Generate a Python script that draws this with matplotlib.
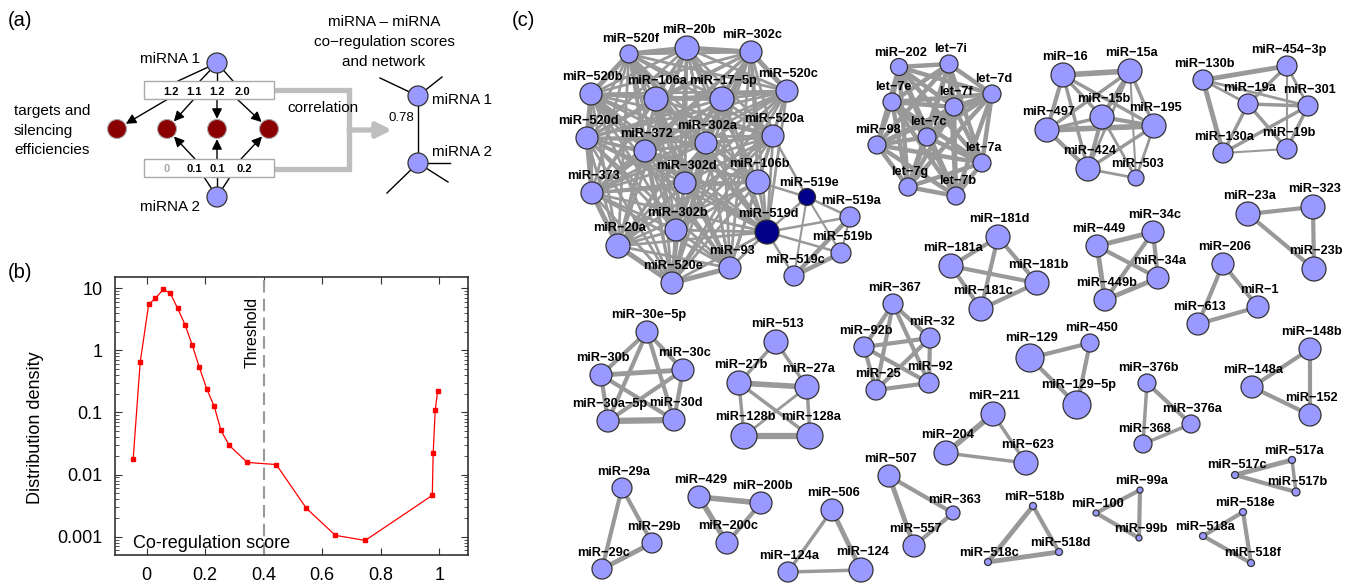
import itertools
import matplotlib
matplotlib.use('Agg')
import matplotlib.pyplot as plt
from matplotlib.patches import Circle, Rectangle
from matplotlib.ticker import FixedLocator, FixedFormatter, LogLocator, NullFormatter

plt.rcParams['font.family'] = ['Liberation Sans', 'DejaVu Sans']

# ---- panel (b) data: distribution of co-regulation scores ----
score = [-0.046, -0.022, 0.007, 0.030, 0.057, 0.081, 0.106, 0.132, 0.156, 0.180,
         0.206, 0.231, 0.254, 0.282, 0.344, 0.443, 0.546, 0.645, 0.747, 0.976,
         0.979, 0.986, 0.994]
density = [0.0176, 0.64, 5.5, 6.9, 9.6, 8.3, 4.76, 2.54, 1.21, 0.535,
           0.236, 0.126, 0.0516, 0.0296, 0.0157, 0.0145, 0.00286, 0.00105, 0.00087, 0.00463,
           0.022, 0.108, 0.219]
threshold = 0.4

# ---- panel (a) data ----
eff_top = ['1.2', '1.1', '1.2', '2.0']
eff_bottom = ['0', '0.1', '0.1', '0.2']
example_score = '0.78'

# ---- panel (c) data: co-regulation network ----
big_core = ['miR-520f', 'miR-20b', 'miR-302c', 'miR-520c', 'miR-520b', 'miR-106a', 'miR-17-5p',
            'miR-520d', 'miR-372', 'miR-302a', 'miR-520a', 'miR-302d', 'miR-106b', 'miR-373',
            'miR-302b', 'miR-20a', 'miR-519d', 'miR-93', 'miR-520e']
big_extra_edges = [('miR-519e', 'miR-106b', 1.8), ('miR-519e', 'miR-520a', 1.8), ('miR-519e', 'miR-519d', 1.8),
                   ('miR-519e', 'miR-519a', 1.8), ('miR-519e', 'miR-519b', 1.5), ('miR-519e', 'miR-519c', 1.5),
                   ('miR-519d', 'miR-519a', 1.8), ('miR-519d', 'miR-519b', 1.8), ('miR-519d', 'miR-519c', 1.8),
                   ('miR-519a', 'miR-519c', 3.2), ('miR-519b', 'miR-519c', 3.2), ('miR-519a', 'miR-519b', 1.5)]
big_thick = [('miR-520f', 'miR-20b'), ('miR-20b', 'miR-302c'), ('miR-520b', 'miR-520d'),
             ('miR-520d', 'miR-373'), ('miR-373', 'miR-20a'), ('miR-20a', 'miR-520e'),
             ('miR-520e', 'miR-93'), ('miR-302c', 'miR-520c'), ('miR-520b', 'miR-520f')]
let7 = ['miR-202', 'let-7i', 'let-7d', 'let-7e', 'let-7f', 'miR-98', 'let-7c', 'let-7a', 'let-7g', 'let-7b']
small_edges = [
    ('miR-16', 'miR-15a', 4.0), ('miR-16', 'miR-497', 3.0), ('miR-16', 'miR-15b', 2.5), ('miR-16', 'miR-195', 2.5),
    ('miR-16', 'miR-424', 2.5), ('miR-15a', 'miR-15b', 3.0), ('miR-15a', 'miR-195', 2.5), ('miR-15a', 'miR-497', 2.5),
    ('miR-15a', 'miR-424', 2.0), ('miR-15a', 'miR-503', 1.5), ('miR-497', 'miR-15b', 2.5), ('miR-497', 'miR-195', 4.0),
    ('miR-497', 'miR-424', 3.0), ('miR-15b', 'miR-195', 3.0), ('miR-15b', 'miR-424', 3.0), ('miR-15b', 'miR-503', 2.0),
    ('miR-195', 'miR-424', 2.5), ('miR-195', 'miR-503', 2.0), ('miR-424', 'miR-503', 2.0),
    ('miR-130b', 'miR-454-3p', 3.5), ('miR-130b', 'miR-19a', 2.0), ('miR-130b', 'miR-301', 2.0),
    ('miR-130b', 'miR-130a', 3.5), ('miR-454-3p', 'miR-19a', 2.5), ('miR-454-3p', 'miR-301', 2.0),
    ('miR-454-3p', 'miR-19b', 1.5), ('miR-19a', 'miR-301', 2.5), ('miR-19a', 'miR-130a', 2.5),
    ('miR-19a', 'miR-19b', 2.5), ('miR-301', 'miR-130a', 2.5), ('miR-301', 'miR-19b', 2.5),
    ('miR-130a', 'miR-19b', 1.5),
    ('miR-23a', 'miR-323', 3.0), ('miR-23a', 'miR-23b', 3.0), ('miR-323', 'miR-23b', 3.0),
    ('miR-181d', 'miR-181a', 3.0), ('miR-181d', 'miR-181b', 3.0), ('miR-181d', 'miR-181c', 3.0),
    ('miR-181a', 'miR-181b', 3.0), ('miR-181a', 'miR-181c', 3.0), ('miR-181b', 'miR-181c', 3.0),
    ('miR-449', 'miR-34c', 3.5), ('miR-449', 'miR-34a', 3.0), ('miR-449', 'miR-449b', 3.5),
    ('miR-34c', 'miR-34a', 3.0), ('miR-34c', 'miR-449b', 3.0), ('miR-34a', 'miR-449b', 3.5),
    ('miR-206', 'miR-1', 3.0), ('miR-206', 'miR-613', 3.0), ('miR-1', 'miR-613', 3.0),
    ('miR-367', 'miR-92b', 3.0), ('miR-367', 'miR-32', 3.0), ('miR-367', 'miR-25', 3.0), ('miR-367', 'miR-92', 3.0),
    ('miR-92b', 'miR-32', 3.0), ('miR-92b', 'miR-25', 3.0), ('miR-92b', 'miR-92', 3.0),
    ('miR-32', 'miR-25', 3.0), ('miR-32', 'miR-92', 3.0), ('miR-25', 'miR-92', 3.0),
    ('miR-129', 'miR-450', 3.0), ('miR-129', 'miR-129-5p', 3.0), ('miR-450', 'miR-129-5p', 3.0),
    ('miR-376b', 'miR-376a', 3.0), ('miR-376b', 'miR-368', 2.5), ('miR-376a', 'miR-368', 2.5),
    ('miR-148b', 'miR-148a', 3.0), ('miR-148b', 'miR-152', 3.0), ('miR-148a', 'miR-152', 3.0),
    ('miR-30e-5p', 'miR-30b', 3.0), ('miR-30e-5p', 'miR-30c', 3.0), ('miR-30e-5p', 'miR-30a-5p', 3.0),
    ('miR-30e-5p', 'miR-30d', 3.0), ('miR-30b', 'miR-30c', 3.5), ('miR-30b', 'miR-30a-5p', 3.0),
    ('miR-30b', 'miR-30d', 3.0), ('miR-30c', 'miR-30a-5p', 3.0), ('miR-30c', 'miR-30d', 3.0),
    ('miR-30a-5p', 'miR-30d', 4.5),
    ('miR-513', 'miR-27b', 2.5), ('miR-513', 'miR-27a', 2.5), ('miR-27b', 'miR-27a', 4.0),
    ('miR-27b', 'miR-128b', 2.5), ('miR-27b', 'miR-128a', 2.5), ('miR-27a', 'miR-128b', 2.0),
    ('miR-27a', 'miR-128a', 2.5), ('miR-128b', 'miR-128a', 4.5),
    ('miR-29a', 'miR-29b', 3.0), ('miR-29a', 'miR-29c', 3.0), ('miR-29b', 'miR-29c', 3.5),
    ('miR-429', 'miR-200b', 4.0), ('miR-429', 'miR-200c', 4.0), ('miR-200b', 'miR-200c', 3.0),
    ('miR-506', 'miR-124a', 2.5), ('miR-506', 'miR-124', 3.5), ('miR-124a', 'miR-124', 2.5),
    ('miR-507', 'miR-363', 3.0), ('miR-507', 'miR-557', 3.5), ('miR-363', 'miR-557', 3.0),
    ('miR-211', 'miR-204', 4.0), ('miR-211', 'miR-623', 2.5), ('miR-204', 'miR-623', 2.5),
    ('miR-518b', 'miR-518c', 3.5), ('miR-518b', 'miR-518d', 3.0), ('miR-518c', 'miR-518d', 3.5),
    ('miR-99a', 'miR-100', 3.0), ('miR-99a', 'miR-99b', 3.0), ('miR-100', 'miR-99b', 3.0),
    ('miR-517a', 'miR-517c', 3.5), ('miR-517a', 'miR-517b', 2.5), ('miR-517c', 'miR-517b', 3.0),
    ('miR-518e', 'miR-518a', 3.0), ('miR-518e', 'miR-518f', 3.0), ('miR-518a', 'miR-518f', 3.0),
]
dark_nodes = ['miR-519d', 'miR-519e']

# node layout in figure pixels: x, y (from top), radius
layout = {
    'miR-520f': (629, 54, 9), 'miR-20b': (687, 48, 12), 'miR-302c': (751, 52, 11), 'miR-520c': (787, 91, 11),
    'miR-520b': (591, 94, 11), 'miR-106a': (656, 99, 12), 'miR-17-5p': (722, 99, 12), 'miR-520d': (587, 138, 11),
    'miR-372': (645, 151, 11), 'miR-302a': (706, 143, 11), 'miR-520a': (773, 136, 11), 'miR-302d': (685, 183, 11),
    'miR-106b': (758, 182, 12), 'miR-373': (592, 193, 11), 'miR-302b': (676, 230, 11), 'miR-20a': (618, 246, 12),
    'miR-519d': (767, 232, 12), 'miR-93': (730, 268, 11), 'miR-520e': (672, 283, 11),
    'miR-519e': (807, 197, 8.5), 'miR-519a': (850, 217, 10), 'miR-519b': (841, 253, 10), 'miR-519c': (794, 276, 10),
    'miR-202': (899, 67, 8.5), 'let-7i': (949, 64, 9), 'let-7d': (992, 94, 9), 'let-7e': (892, 102, 9),
    'let-7f': (954, 107, 9), 'miR-98': (877, 145, 9), 'let-7c': (927, 137, 9), 'let-7a': (982, 163, 9),
    'let-7g': (908, 187, 9), 'let-7b': (956, 196, 9),
    'miR-16': (1063, 75, 12), 'miR-15a': (1130, 71, 12), 'miR-497': (1047, 130, 12), 'miR-15b': (1102, 117, 12),
    'miR-195': (1154, 126, 12), 'miR-424': (1088, 169, 12), 'miR-503': (1136, 178, 8),
    'miR-130b': (1203, 80, 10), 'miR-454-3p': (1287, 66, 10), 'miR-19a': (1248, 104, 10), 'miR-301': (1308, 106, 10),
    'miR-130a': (1223, 153, 10), 'miR-19b': (1287, 149, 10),
    'miR-23a': (1248, 214, 12), 'miR-323': (1313, 207, 12), 'miR-23b': (1314, 269, 12),
    'miR-181d': (998, 237, 12), 'miR-181a': (951, 266, 12), 'miR-181b': (1037, 283, 12), 'miR-181c': (981, 309, 12),
    'miR-449': (1097, 246, 11), 'miR-34c': (1153, 232, 11), 'miR-34a': (1158, 278, 11), 'miR-449b': (1105, 300, 11),
    'miR-206': (1223, 264, 11), 'miR-1': (1258, 307, 11), 'miR-613': (1198, 324, 11),
    'miR-367': (893, 304, 10), 'miR-92b': (864, 347, 10), 'miR-32': (930, 338, 10), 'miR-25': (876, 390, 10),
    'miR-92': (929, 383, 10),
    'miR-129': (1030, 358, 14), 'miR-450': (1090, 343, 9), 'miR-129-5p': (1077, 405, 14),
    'miR-376b': (1147, 383, 9), 'miR-376a': (1191, 424, 9), 'miR-368': (1143, 444, 9),
    'miR-148b': (1310, 349, 11), 'miR-148a': (1252, 387, 11), 'miR-152': (1310, 415, 11),
    'miR-30e-5p': (647, 332, 11), 'miR-30b': (601, 375, 11), 'miR-30c': (683, 370, 11),
    'miR-30a-5p': (608, 421, 11), 'miR-30d': (674, 420, 11),
    'miR-513': (776, 342, 12), 'miR-27b': (739, 383, 12), 'miR-27a': (807, 387, 12),
    'miR-128b': (744, 436, 13), 'miR-128a': (810, 436, 13),
    'miR-29a': (622, 488, 10), 'miR-29b': (652, 543, 10), 'miR-29c': (602, 569, 10),
    'miR-429': (699, 497, 11), 'miR-200b': (761, 503, 11), 'miR-200c': (727, 543, 11),
    'miR-506': (832, 510, 11), 'miR-124a': (788, 572, 10), 'miR-124': (861, 570, 12),
    'miR-507': (889, 476, 11), 'miR-363': (953, 513, 7), 'miR-557': (914, 546, 11),
    'miR-211': (993, 414, 12), 'miR-204': (946, 453, 12), 'miR-623': (1026, 463, 12),
    'miR-518b': (1033, 506, 3.5), 'miR-518c': (988, 562, 3.5), 'miR-518d': (1059, 552, 3.5),
    'miR-99a': (1140, 490, 3), 'miR-100': (1096, 513, 3), 'miR-99b': (1139, 538, 3),
    'miR-517a': (1292, 460, 3.5), 'miR-517c': (1235, 475, 3.5), 'miR-517b': (1296, 492, 4),
    'miR-518e': (1243, 512, 3.5), 'miR-518a': (1203, 536, 3.5), 'miR-518f': (1251, 563, 3.5),
}

W, H = 1353, 585
fig = plt.figure(figsize=(W / 100, H / 100), dpi=100)

# ---------------- panel (b) ----------------
axb = fig.add_axes([115 / W, 1 - 555 / H, (468 - 115) / W, (555 - 277) / H])
axb.plot(score, density, color='red', lw=0.9, marker='s', ms=3.5, mec='red', mfc='red')
axb.axvline(threshold, color='#999999', lw=1.5, ls=(0, (6, 3)))
axb.set_yscale('log')
axb.set_xlim(-0.108, 1.098)
axb.set_ylim(5.07e-4, 15.2)
axb.xaxis.set_major_locator(FixedLocator([0, 0.2, 0.4, 0.6, 0.8, 1.0]))
axb.xaxis.set_major_formatter(FixedFormatter(['0', '0.2', '0.4', '0.6', '0.8', '1']))
axb.yaxis.set_major_locator(FixedLocator([0.001, 0.01, 0.1, 1, 10]))
axb.yaxis.set_major_formatter(FixedFormatter(['0.001', '0.01', '0.1', '1', '10']))
axb.yaxis.set_minor_locator(LogLocator(base=10, subs=range(2, 10)))
axb.yaxis.set_minor_formatter(NullFormatter())
axb.tick_params(which='both', direction='in', top=True, right=True, labelsize=13, pad=9, color='#333333')
axb.tick_params(which='major', length=5)
axb.tick_params(which='minor', length=3)
for s in axb.spines.values():
    s.set_color('#333333')
    s.set_linewidth(1.2)
axb.set_ylabel('Distribution density', fontsize=13)
axb.yaxis.set_label_coords(-0.201, 0.458)
axb.text(0.387, 7.3, 'Threshold', rotation=90, ha='right', va='top', fontsize=11.5)
axb.text(-0.046, 6.5e-4, 'Co-regulation score', ha='left', va='baseline', fontsize=13)

# ---------------- overlay in pixel coordinates for (a) and (c) ----------------
ax = fig.add_axes([0, 0, 1, 1])
ax.set_xlim(0, W)
ax.set_ylim(H, 0)
ax.axis('off')
ax.patch.set_alpha(0)

ax.text(8, 20, '(a)', fontsize=14.5, ha='left', va='center')
ax.text(8, 273, '(b)', fontsize=14.5, ha='left', va='center')
ax.text(512, 21, '(c)', fontsize=14.5, ha='left', va='center')

# ---------------- panel (a) ----------------
blue = '#9999ff'
m1 = (217, 63)
m2 = (217, 197)
red_nodes = [(117, 129), (167, 129), (217, 129), (269, 129)]
rr = 9.5

for xt in [178, 200, 217, 233]:
    ax.plot([m1[0], xt], [m1[1], 81], color='black', lw=1, zorder=2)
for xb in [204, 217, 230]:
    ax.plot([m2[0], xb], [m2[1], 177], color='black', lw=1, zorder=2)
for xs, tgt in zip([168, 194, 217, 237], red_nodes):
    ax.annotate('', xy=tgt, xytext=(xs, 99),
                arrowprops=dict(arrowstyle='-|>', color='black', lw=1, mutation_scale=15,
                                shrinkA=0, shrinkB=rr * 0.72 + 0.5), zorder=3)
for xs, tgt in zip([195, 217, 241], red_nodes[1:]):
    ax.annotate('', xy=tgt, xytext=(xs, 159),
                arrowprops=dict(arrowstyle='-|>', color='black', lw=1, mutation_scale=15,
                                shrinkA=0, shrinkB=rr * 0.72 + 0.5), zorder=3)

# gray connector + arrow
ax.plot([274, 349, 349, 274], [90, 90, 169, 169], color='#bebebe', lw=3.8,
        solid_joinstyle='miter', zorder=1)
ax.annotate('', xy=(392, 130), xytext=(349, 130),
            arrowprops=dict(arrowstyle='-|>', color='#bebebe', lw=3.8, mutation_scale=22,
                            shrinkA=0, shrinkB=0), zorder=1)

for ytop in [81, 159]:
    ax.add_patch(Rectangle((144, ytop), 130, 18, fc='white', ec='#aaaaaa', lw=1, zorder=4))
for xv, lab in zip([171, 194, 217, 242], eff_top):
    ax.text(xv, 95, lab, ha='center', va='baseline', fontsize=8, fontweight='bold', zorder=5)
for xv, lab in zip([167, 194, 217, 244], eff_bottom):
    ax.text(xv, 172, lab, ha='center', va='baseline', fontsize=8, fontweight='bold',
            color='#aaaaaa' if lab == '0' else 'black', zorder=5)

for c in [m1, m2]:
    ax.add_patch(Circle(c, 10, fc=blue, ec='#333333', lw=0.9, zorder=6))
for c in red_nodes:
    ax.add_patch(Circle(c, rr, fc='#8b0000', ec='#aaaaaa', lw=0.8, zorder=6))

ax.text(200, 59, 'miRNA 1', ha='right', va='center', fontsize=11)
ax.text(200, 207, 'miRNA 2', ha='right', va='center', fontsize=11)
ax.text(14, 131, 'targets and\nsilencing\nefficiencies', ha='left', va='center',
        fontsize=11, linespacing=1.5)
ax.text(287, 108, 'correlation', ha='left', va='center', fontsize=11)
ax.text(384, 42, 'miRNA \u2013 miRNA\nco\u2212regulation scores\nand network', ha='center', va='center',
        fontsize=11, linespacing=1.5)

n1 = (418, 96)
n2 = (418, 163)
ax.plot([n1[0], n2[0]], [n1[1], n2[1]], color='black', lw=1, zorder=2)
for p in [(380, 78), (442, 77)]:
    ax.plot([n1[0], p[0]], [n1[1], p[1]], color='black', lw=1, zorder=2)
for p in [(450, 163), (387, 193), (448, 182)]:
    ax.plot([n2[0], p[0]], [n2[1], p[1]], color='black', lw=1, zorder=2)
for c in [n1, n2]:
    ax.add_patch(Circle(c, 10, fc=blue, ec='#333333', lw=0.9, zorder=6))
ax.text(401, 118, example_score, ha='center', va='center', fontsize=9.5)
ax.text(432, 100, 'miRNA 1', ha='left', va='center', fontsize=11)
ax.text(432, 152, 'miRNA 2', ha='left', va='center', fontsize=11)

# ---------------- panel (c) ----------------
edges = []
for a, b in itertools.combinations(big_core, 2):
    w = 3.6 if (a, b) in big_thick or (b, a) in big_thick else 2.0
    edges.append((a, b, w))
edges += big_extra_edges
for a, b in itertools.combinations(let7, 2):
    edges.append((a, b, 3.2))
edges += small_edges

for a, b, w in edges:
    xa, ya, _ = layout[a]
    xb, yb, _ = layout[b]
    ax.plot([xa, xb], [ya, yb], color='#999999', lw=w, solid_capstyle='butt', zorder=1)

for name, (x, y, r) in layout.items():
    fc = '#00008b' if name in dark_nodes else blue
    ax.add_patch(Circle((x, y), r, fc=fc, ec='#333333', lw=0.9, zorder=6))
    ax.text(x + 1.5, y - r - 3, name.replace('-', '\u2212'), ha='center', va='baseline',
            fontsize=9.2, fontweight='bold', zorder=7)

fig.savefig('out.png', dpi=100)
